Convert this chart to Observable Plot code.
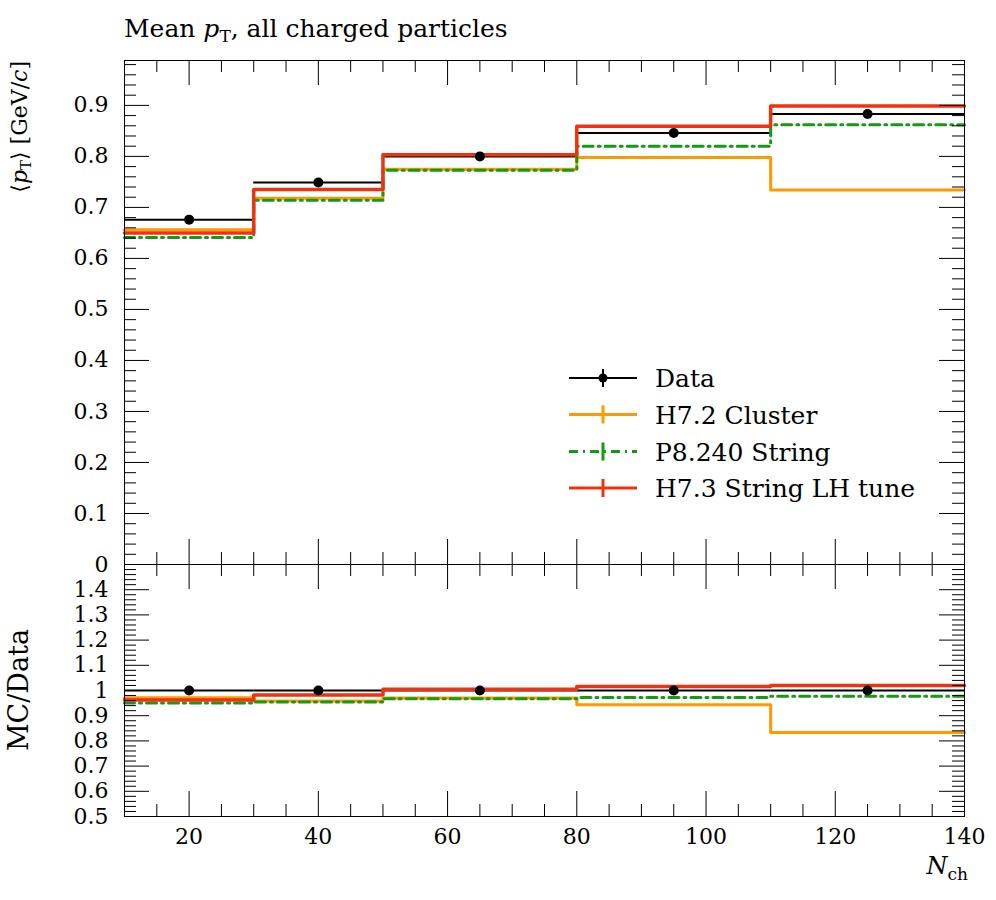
<!DOCTYPE html>
<html>
<head>
<meta charset="utf-8">
<script src="https://cdn.jsdelivr.net/npm/d3@7"></script>
<script src="https://cdn.jsdelivr.net/npm/@observablehq/plot@0.6"></script>
<style>
  html, body { margin: 0; padding: 0; background: #fff; }
  #wrap { position: relative; width: 996px; height: 900px; font-family: "DejaVu Serif", serif; }
  #wrap > div.panel { position: absolute; left: 0; }
  #overlay { position: absolute; left: 0; top: 0; pointer-events: none; }
</style>
</head>
<body>
<div id="wrap">
  <div class="panel" id="main" style="top:0"></div>
  <div class="panel" id="ratio" style="top:564px"></div>
</div>
<script>
// ---- data ----
const binLow    = [10, 30, 50, 80, 110];
const binHigh   = [30, 50, 80, 110, 140];
const binCenter = [20, 40, 65, 95, 125];

const dataMean  = [0.676, 0.749, 0.800, 0.846, 0.883];
const h72Mean   = [0.656, 0.718, 0.775, 0.798, 0.734];
const p8Mean    = [0.641, 0.714, 0.773, 0.820, 0.862];
const h73Mean   = [0.650, 0.735, 0.803, 0.859, 0.899];

const dataRatio = [1, 1, 1, 1, 1];
const h72Ratio  = [0.971, 0.958, 0.970, 0.943, 0.833];
const p8Ratio   = [0.950, 0.954, 0.967, 0.972, 0.977];
const h73Ratio  = [0.962, 0.982, 1.005, 1.016, 1.020];

const seriesNames  = ["Data", "H7.2 Cluster", "P8.240 String", "H7.3 String LH tune"];
const seriesColors = ["#000000", "#ff9900", "#159a15", "#ee3311"];

const xMajorTicks  = [20, 40, 60, 80, 100, 120, 140];
const xMinorTicks  = [15, 25, 30, 35, 45, 50, 55, 65, 70, 75, 85, 90, 95, 105, 110, 115, 125, 130, 135];
const yMainTicks   = [0, 0.1, 0.2, 0.3, 0.4, 0.5, 0.6, 0.7, 0.8, 0.9];
const yRatioTicks  = [0.5, 0.6, 0.7, 0.8, 0.9, 1.0, 1.1, 1.2, 1.3, 1.4];

// ---- helpers ----
const FONT = "DejaVu Serif";
const W = 996, ML = 124, MR = 32;
const FW = W - ML - MR;

function steps(vals) {
  const pts = [];
  vals.forEach((v, i) => { pts.push({x: binLow[i], y: v}); pts.push({x: binHigh[i], y: v}); });
  return pts;
}
function bins(vals) {
  return vals.map((v, i) => ({lo: binLow[i], hi: binHigh[i], c: binCenter[i], v}));
}
function minorY(major, step) {
  const out = [];
  for (let k = 0; k < major.length; k++) {
    for (let j = 1; j < 5; j++) out.push(+(major[k] + j * step).toFixed(4));
  }
  return out;
}

function tickMarks(fh, yMajor, yMinor) {
  const big = 25, small = 12;
  return [
    Plot.tickX(xMajorTicks, {x: d => d, insetTop: fh - big, stroke: "black", strokeWidth: 1}),
    Plot.tickX(xMajorTicks, {x: d => d, insetBottom: fh - big, stroke: "black", strokeWidth: 1}),
    Plot.tickX(xMinorTicks, {x: d => d, insetTop: fh - small, stroke: "black", strokeWidth: 1}),
    Plot.tickX(xMinorTicks, {x: d => d, insetBottom: fh - small, stroke: "black", strokeWidth: 1}),
    Plot.tickY(yMajor, {y: d => d, insetRight: FW - big, stroke: "black", strokeWidth: 1}),
    Plot.tickY(yMajor, {y: d => d, insetLeft: FW - big, stroke: "black", strokeWidth: 1}),
    Plot.tickY(yMinor, {y: d => d, insetRight: FW - small, stroke: "black", strokeWidth: 1}),
    Plot.tickY(yMinor, {y: d => d, insetLeft: FW - small, stroke: "black", strokeWidth: 1})
  ];
}

function curves(dv, a, b, c) {
  return [
    Plot.ruleY(bins(dv), {y: "v", x1: "lo", x2: "hi", stroke: seriesColors[0], strokeWidth: 2}),
    Plot.line(steps(a), {x: "x", y: "y", stroke: seriesColors[1], strokeWidth: 3}),
    Plot.line(steps(b), {x: "x", y: "y", stroke: seriesColors[2], strokeWidth: 3, strokeDasharray: "10,5,2,5"}),
    Plot.line(steps(c), {x: "x", y: "y", stroke: seriesColors[3], strokeWidth: 3.5}),
    Plot.dot(bins(dv), {x: "c", y: "v", r: 5, fill: seriesColors[0], stroke: "none"})
  ];
}

// ---- main panel ----
const mainH = 564, mainFH = 504;
const main = Plot.plot({
  width: W, height: mainH,
  marginTop: 60, marginBottom: 0, marginLeft: ML, marginRight: MR,
  style: {fontFamily: FONT, background: "transparent", overflow: "visible"},
  x: {domain: [10, 140], axis: null},
  y: {domain: [0, 0.988]},
  marks: [
    ...curves(dataMean, h72Mean, p8Mean, h73Mean),
    ...tickMarks(mainFH, yMainTicks, minorY(yMainTicks, 0.02).filter(d => d < 0.988)),
    Plot.axisY(yMainTicks, {tickSize: 0, tickPadding: 16, fontSize: 22, label: null,
      tickFormat: d => d === 0 ? "0" : d.toFixed(1)}),
    Plot.frame({stroke: "black", strokeWidth: 1})
  ]
});
document.getElementById("main").appendChild(main);

// ---- ratio panel ----
const ratioH = 336, ratioFH = 252;
const ratio = Plot.plot({
  width: W, height: ratioH,
  marginTop: 0, marginBottom: 84, marginLeft: ML, marginRight: MR,
  style: {fontFamily: FONT, background: "transparent", overflow: "visible"},
  x: {domain: [10, 140]},
  y: {domain: [0.5, 1.5]},
  marks: [
    ...curves(dataRatio, h72Ratio, p8Ratio, h73Ratio),
    ...tickMarks(ratioFH, yRatioTicks, minorY(yRatioTicks, 0.02)),
    Plot.axisY(yRatioTicks, {tickSize: 0, tickPadding: 16, fontSize: 22, label: null,
      tickFormat: d => d === 1 ? "1" : d.toFixed(1)}),
    Plot.axisX(xMajorTicks, {tickSize: 0, tickPadding: 12, fontSize: 22, label: null}),
    Plot.frame({stroke: "black", strokeWidth: 1})
  ]
});
document.getElementById("ratio").appendChild(ratio);

// ---- overlay: title, axis titles, legend ----
const ov = d3.select("#wrap").append("svg")
  .attr("id", "overlay").attr("width", W).attr("height", 900)
  .style("font-family", FONT);

// title
const t = ov.append("text").attr("x", 124).attr("y", 37).attr("font-size", 25);
t.append("tspan").text("Mean ");
t.append("tspan").attr("font-style", "italic").text("p");
t.append("tspan").attr("font-size", 17).attr("dy", 5).text("T");
t.append("tspan").attr("dy", -5).text(", all charged particles");

// y label main
const yl = ov.append("text").attr("transform", "translate(27,61) rotate(-90)")
  .attr("text-anchor", "end").attr("font-size", 22);
yl.append("tspan").text("\u27E8");
yl.append("tspan").attr("font-style", "italic").text("p");
yl.append("tspan").attr("font-size", 15).attr("dy", 4).text("T");
yl.append("tspan").attr("dy", -4).text("\u27E9 [GeV/");
yl.append("tspan").attr("font-style", "italic").text("c");
yl.append("tspan").text("]");

// y label ratio
ov.append("text").attr("transform", "translate(28,690) rotate(-90)")
  .attr("text-anchor", "middle").attr("font-size", 27).text("MC/Data");

// x label
const xl = ov.append("text").attr("x", 968).attr("y", 874).attr("text-anchor", "end").attr("font-size", 24);
xl.append("tspan").attr("font-style", "italic").text("N");
xl.append("tspan").attr("font-size", 17).attr("dy", 6).text("ch");

// legend
const rows = [378, 414.5, 451.5, 488];
seriesNames.forEach((name, i) => {
  const g = ov.append("g").attr("transform", `translate(0,${rows[i]})`);
  const line = g.append("line").attr("x1", 569).attr("x2", 637).attr("y1", 0).attr("y2", 0)
    .attr("stroke", seriesColors[i]).attr("stroke-width", i === 0 ? 2 : 3);
  if (i === 2) line.attr("stroke-dasharray", "9,5,2,5");
  g.append("line").attr("x1", 603).attr("x2", 603).attr("y1", -9).attr("y2", 9)
    .attr("stroke", seriesColors[i]).attr("stroke-width", i === 0 ? 2 : 3);
  if (i === 0) g.append("circle").attr("cx", 603).attr("cy", 0).attr("r", 4.5).attr("fill", "#000");
  g.append("text").attr("x", 655).attr("y", 9).attr("font-size", 25).text(name);
});
</script>
</body>
</html>
